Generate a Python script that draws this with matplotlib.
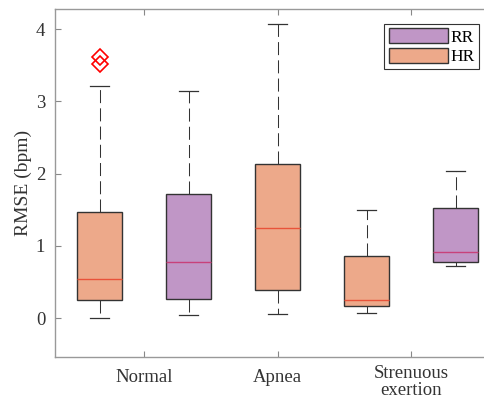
import matplotlib
matplotlib.use("Agg")
import matplotlib.pyplot as plt
from matplotlib.patches import Patch

plt.rcParams["font.family"] = ["Liberation Serif", "DejaVu Serif"]

# x categories and box stats
categories = ["Normal", "Apnea", "Strenuous\nexertion"]
series = ["HR", "RR", "HR", "HR", "RR"]
group_idx = [0, 0, 1, 2, 2]
offsets = [-1, 1, 0, -1, 1]
whislo = [0.00, 0.04, 0.05, 0.07, 0.72]
q1 = [0.245, 0.26, 0.39, 0.16, 0.78]
med = [0.54, 0.78, 1.25, 0.245, 0.91]
q3 = [1.47, 1.72, 2.14, 0.86, 1.52]
whishi = [3.22, 3.14, 4.07, 1.50, 2.03]
fliers = [[3.52, 3.61], [], [], [], []]

face = {"HR": "#EDA98A", "RR": "#C096C6"}
median_col = {"HR": "#E8533A", "RR": "#C8417A"}


def main():
    fig = plt.figure(figsize=(4.85, 3.99), dpi=100)
    ax = fig.add_axes([55 / 485, 1 - 357 / 399, 1 - 55 / 485 + 0.01, (357 - 9) / 399])

    width = 0.333
    positions = [group_idx[i] + 1 + offsets[i] * width for i in range(len(series))]
    stats = []
    for i in range(len(series)):
        stats.append(dict(whislo=whislo[i], q1=q1[i], med=med[i], q3=q3[i],
                          whishi=whishi[i], fliers=fliers[i]))

    for i, st in enumerate(stats):
        s = series[i]
        ax.bxp([st], positions=[positions[i]], widths=width, capwidths=0.14,
               patch_artist=True,
               boxprops=dict(facecolor=face[s], edgecolor="#333333", linewidth=1.0),
               medianprops=dict(color=median_col[s], linewidth=1.0),
               whiskerprops=dict(color="#333333", linewidth=0.75, linestyle=(0, (12.5, 5))),
               capprops=dict(color="#333333", linewidth=0.9),
               flierprops=dict(marker="D", markerfacecolor="none", markeredgecolor="red",
                               markersize=8.5, markeredgewidth=1.2))

    ax.set_xlim(0.333, 3.59)
    ax.set_ylim(-0.54, 4.28)
    ax.set_xticks([1, 2, 3])
    ax.set_xticklabels(categories, linespacing=0.95)
    ax.set_yticks([0, 1, 2, 3, 4])
    ax.set_ylabel("RMSE (bpm)", fontsize=14, color="#333333", labelpad=3)

    ax.tick_params(direction="in", length=4, width=0.8, colors="#888888",
                   labelcolor="#333333", labelsize=13.5, top=True, right=False)
    ax.tick_params(axis="x", pad=9)
    ax.tick_params(axis="y", pad=7)
    # the two-line label sits a little higher than the others
    ax.get_xticklabels()[2].set_y(0.0115)
    for side in ["left", "bottom", "top"]:
        ax.spines[side].set_color("#999999")
        ax.spines[side].set_linewidth(1.0)
    ax.spines["right"].set_visible(False)

    handles = [Patch(facecolor=face["RR"], edgecolor="#333333", label="RR"),
               Patch(facecolor=face["HR"], edgecolor="#333333", label="HR")]
    leg = ax.legend(handles=handles, loc="upper right",
                    bbox_to_anchor=(479 / 485, 1 - 24 / 399), bbox_transform=fig.transFigure,
                    fontsize=12.5, handlelength=3.4, handleheight=0.95, handletextpad=0.15,
                    labelspacing=0.1, borderpad=0.25, fancybox=False, framealpha=1,
                    edgecolor="#333333", borderaxespad=0)
    leg.get_frame().set_linewidth(0.8)

    fig.savefig("out.png", dpi=100)


if __name__ == "__main__":
    main()
